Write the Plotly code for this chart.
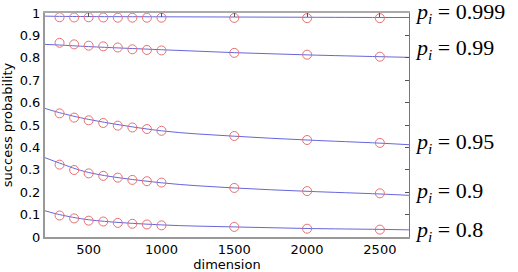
import plotly.graph_objects as go

# marker data
dims = [300, 400, 500, 600, 700, 800, 900, 1000, 1500, 2000, 2500]
p999 = [0.981, 0.980, 0.981, 0.980, 0.979, 0.979, 0.979, 0.979, 0.978, 0.977, 0.977]
p99 = [0.867, 0.860, 0.854, 0.851, 0.846, 0.838, 0.835, 0.833, 0.822, 0.814, 0.805]
p95 = [0.552, 0.533, 0.521, 0.509, 0.497, 0.489, 0.482, 0.474, 0.451, 0.433, 0.420]
p90 = [0.323, 0.299, 0.284, 0.273, 0.265, 0.255, 0.249, 0.243, 0.219, 0.205, 0.195]
p80 = [0.096, 0.083, 0.073, 0.069, 0.063, 0.059, 0.056, 0.052, 0.045, 0.037, 0.033]

# model curve data
curve_x = [200, 300, 500, 1000, 1500, 2000, 2500, 2700]
c999 = [0.986, 0.985, 0.984, 0.983, 0.982, 0.981, 0.980, 0.980]
c99 = [0.860, 0.857, 0.850, 0.836, 0.823, 0.813, 0.805, 0.802]
c95 = [0.574, 0.555, 0.525, 0.474, 0.450, 0.433, 0.419, 0.412]
c90 = [0.354, 0.330, 0.288, 0.242, 0.219, 0.204, 0.192, 0.186]
c80 = [0.117, 0.100, 0.077, 0.054, 0.045, 0.038, 0.034, 0.032]

labels = ["0.999", "0.99", "0.95", "0.9", "0.8"]
label_y = [1.0, 0.840, 0.420, 0.200, 0.028]

y_ticks = [0, 0.1, 0.2, 0.3, 0.4, 0.5, 0.6, 0.7, 0.8, 0.9, 1]
y_ticktext = ["0", "0.1", "0.2", "0.3", "0.4", "0.5", "0.6", "0.7", "0.8", "0.9", "1"]
x_ticks = [500, 1000, 1500, 2000, 2500]

fig = go.Figure()
for c in [c999, c99, c95, c90, c80]:
    fig.add_trace(go.Scatter(x=curve_x, y=c, mode="lines", line=dict(color="#6666dd", width=1, shape="spline"),
                             showlegend=False, hoverinfo="skip"))
for s in [p999, p99, p95, p90, p80]:
    fig.add_trace(go.Scatter(x=dims, y=s, mode="markers",
                             marker=dict(symbol="circle-open", size=9, color="#e87070", line=dict(width=1)),
                             showlegend=False))

for lab, ly in zip(labels, label_y):
    fig.add_annotation(x=1, xref="paper", y=ly, yref="y", xanchor="left", yanchor="middle", xshift=4,
                       text="<i>p<sub>i</sub></i> = " + lab, showarrow=False,
                       font=dict(family="Liberation Serif", size=22, color="black"))

# invisible trace for the mirrored axes
fig.add_trace(go.Scatter(x=[200], y=[0], xaxis="x2", yaxis="y2", mode="markers", marker=dict(opacity=0),
                         showlegend=False, hoverinfo="skip"))

fig.update_layout(
    width=518, height=272,
    margin=dict(l=45, r=109, t=6, b=31),
    plot_bgcolor="white", paper_bgcolor="white",
    font=dict(family="DejaVu Sans", size=13, color="black"),
    xaxis=dict(range=[200, 2700], tickvals=x_ticks, showgrid=False, zeroline=False,
               showline=True, linecolor="#999999", linewidth=1.5, ticks="", ticklen=0,
               title=dict(text="dimension", font=dict(size=13), standoff=0)),
    yaxis=dict(range=[0, 1], tickvals=y_ticks, ticktext=y_ticktext, showgrid=False, zeroline=False,
               showline=True, linecolor="#999999", linewidth=2, ticks="", ticklen=0,
               ticklabeloverflow="allow",
               title=dict(text="success probability", font=dict(size=13), standoff=4)),
    xaxis2=dict(range=[200, 2700], overlaying="x", side="top", tickvals=x_ticks,
                showticklabels=False, ticks="inside", ticklen=4, tickcolor="#555555", showgrid=False,
                zeroline=False, showline=True, linecolor="#aaaaaa", linewidth=2),
    yaxis2=dict(range=[0, 1], overlaying="y", side="right", tickvals=y_ticks, showticklabels=False,
                ticks="inside", ticklen=4, tickcolor="#555555", showgrid=False, zeroline=False,
                showline=True, linecolor="#777777", linewidth=1),
)
fig.write_html("out.html")
